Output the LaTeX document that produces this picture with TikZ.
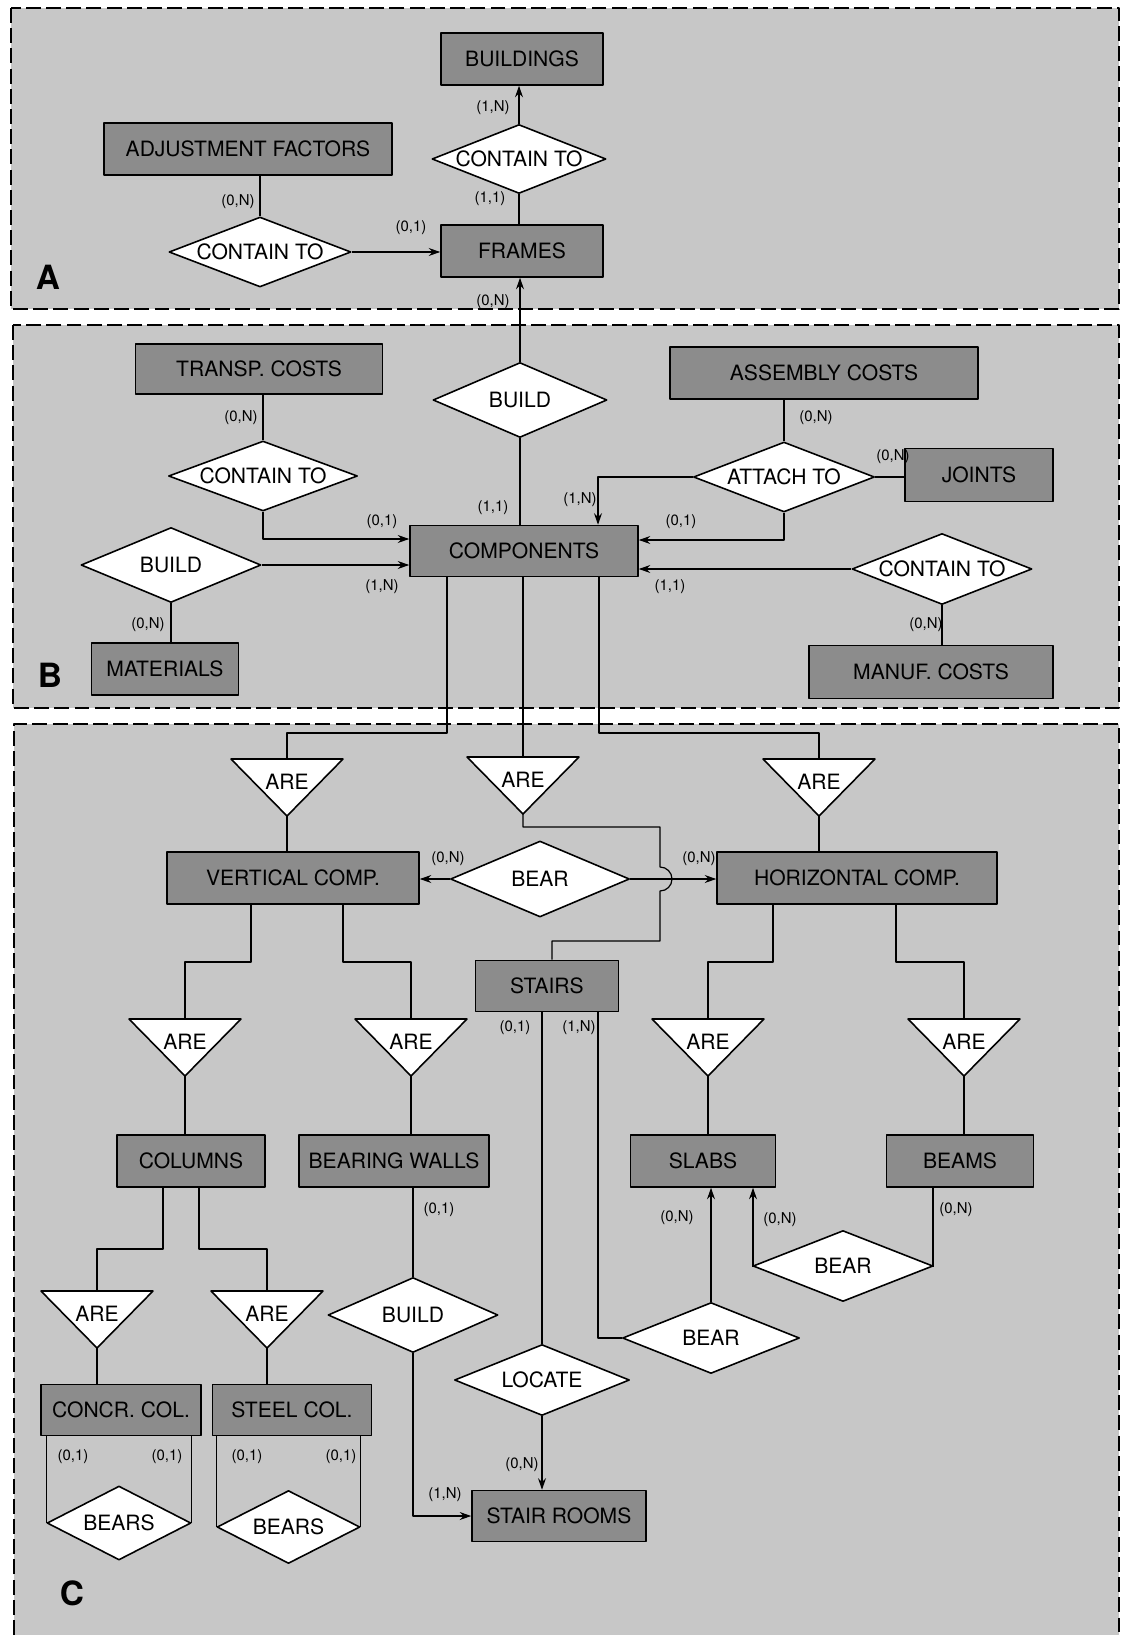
\documentclass[tikz,border=0pt]{standalone}
\usepackage{fontspec}
\setmainfont{TeX Gyre Heros}
\usetikzlibrary{shapes.geometric}
\usetikzlibrary{arrows.meta}
\usetikzlibrary{calc}
\tikzset{ent/.style={draw,line width=0.9pt,fill=black!45,minimum height=1.04cm,inner sep=1pt,font=\fontsize{12}{12}\selectfont}}
\tikzset{rel/.style={diamond,draw,line width=0.9pt,fill=white,aspect=2.5,inner sep=0pt,font=\fontsize{12}{12}\selectfont}}
\tikzset{isa/.style={draw,line width=0.9pt,fill=white}}
\tikzset{l/.style={font=\fontsize{12}{12}\selectfont}}
\tikzset{card/.style={font=\fontsize{8.5}{8.5}\selectfont,inner sep=0pt}}
\tikzset{frame/.style={line width=1.1pt,dash pattern=on 8.5pt off 3pt,fill=black!22}}
\tikzset{tag/.style={font=\fontsize{19}{19}\bfseries\selectfont}}
\begin{document}
\begin{tikzpicture}[x=0.02cm,y=-0.02cm,line join=round,line width=0.7pt,>={Stealth[length=6.5pt,width=4.5pt]}]
            \fill[white] (0,0) rectangle (1124,1635);
            \useasboundingbox (0,0) rectangle (1124,1635);
            % the three dashed frames
            \draw[frame] (11,8) rectangle (1119,309);
            \draw[frame] (13,325) rectangle (1119,708);
            \fill[black!22] (14,724) rectangle (1119,1635);
            \draw[frame,fill=none] (14,1635) -- (14,724) -- (1119,724) -- (1119,1635);
            \node[tag] (tA) at (48,277) {A};
            \node[tag] (tB) at (50,675) {B};
            \node[tag] (tC) at (72,1593) {C};
            % entities
            \node[ent,minimum width=3.24cm] (bldg) at (522,59) {BUILDINGS};
            \node[ent,minimum width=5.76cm] (adj) at (248,149) {ADJUSTMENT FACTORS};
            \node[ent,minimum width=3.24cm] (frm) at (522,251) {FRAMES};
            \node[ent,minimum width=4.94cm,minimum height=1cm] (trc) at (259,369) {TRANSP. COSTS};
            \node[ent,minimum width=6.16cm] (asc) at (824,373) {ASSEMBLY COSTS};
            \node[ent,minimum width=2.96cm,minimum height=1.06cm] (jnt) at (979,475) {JOINTS};
            \node[ent,minimum width=4.56cm,minimum height=1.02cm] (cmp) at (524,551) {COMPONENTS};
            \node[ent,minimum width=2.94cm] (mat) at (165,669) {MATERIALS};
            \node[ent,minimum width=4.88cm,minimum height=1.06cm] (mfc) at (931,672) {MANUF. COSTS};
            \node[ent,minimum width=5.04cm] (vrt) at (293,878) {VERTICAL COMP.};
            \node[ent,minimum width=5.6cm] (hor) at (857,878) {HORIZONTAL COMP.};
            \node[ent,minimum width=2.86cm,minimum height=1.02cm] (str) at (547,986) {STAIRS};
            \node[ent,minimum width=2.96cm] (col) at (191,1161) {COLUMNS};
            \node[ent,minimum width=3.8cm] (bwl) at (394,1161) {BEARING WALLS};
            \node[ent,minimum width=2.9cm] (slb) at (703,1161) {SLABS};
            \node[ent,minimum width=2.94cm] (bms) at (960,1161) {BEAMS};
            \node[ent,minimum width=3.2cm,minimum height=1.02cm] (ccc) at (121,1410) {CONCR. COL.};
            \node[ent,minimum width=3.18cm,minimum height=1.02cm] (stc) at (292,1410) {STEEL COL.};
            \node[ent,minimum width=3.48cm,minimum height=1.02cm] (srm) at (559,1516) {STAIR ROOMS};
            % relationships
            \node[rel,minimum width=3.48cm,minimum height=1.38cm] (ct1) at (519,159) {CONTAIN TO};
            \node[rel,minimum width=3.64cm,minimum height=1.4cm] (ct2) at (260,252) {CONTAIN TO};
            \node[rel,minimum width=3.48cm,minimum height=1.5cm] (bd1) at (520,400) {BUILD};
            \node[rel,minimum width=3.78cm,minimum height=1.4cm] (ct3) at (263,476) {CONTAIN TO};
            \node[rel,minimum width=3.62cm,minimum height=1.4cm] (att) at (784,477) {ATTACH TO};
            \node[rel,minimum width=3.6cm,minimum height=1.5cm] (bd2) at (171,565) {BUILD};
            \node[rel,minimum width=3.6cm,minimum height=1.42cm] (ct4) at (942,569) {CONTAIN TO};
            \node[rel,minimum width=3.58cm,minimum height=1.52cm] (br1) at (540,879) {BEAR};
            \node[rel,minimum width=3.4cm,minimum height=1.5cm] (bd3) at (413,1315) {BUILD};
            \node[rel,minimum width=3.5cm,minimum height=1.42cm] (loc) at (542,1380) {LOCATE};
            \node[rel,minimum width=3.54cm,minimum height=1.42cm] (br2) at (711,1338) {BEAR};
            \node[rel,minimum width=3.6cm,minimum height=1.42cm] (br3) at (843,1266) {BEAR};
            \node[rel,minimum width=2.88cm,minimum height=1.48cm] (bs1) at (119,1523) {BEARS};
            \node[rel,minimum width=2.86cm,minimum height=1.46cm] (bs2) at (288.5,1527) {BEARS};
            % generalisations
            \foreach \n/\x/\y in {a1/287/759,a2/523/757,a3/819/759,a4/185/1019,a5/411/1019,a6/708/1019,a7/964/1019,a8/97/1291,a9/267/1291}{
              \filldraw[isa] (\x-56,\y) -- (\x+56,\y) -- (\x,\y+57) -- cycle;
              \coordinate (\n t) at (\x,\y);
              \coordinate (\n b) at (\x,\y+57);
              \node[l] (\n) at (\x,\y+23) {ARE};
            }
            % block A
            \draw[->] (ct1.north) -- (ct1.north |- bldg.south);
            \draw (ct1.south) -- (ct1.south |- frm.north);
            \draw (ct2.north) -- (ct2.north |- adj.south);
            \draw[->] (ct2.east) -- (ct2.east -| frm.west);
            \draw[->] (bd1.north) -- (bd1.north |- frm.south);
            \node[card] (k1) at (493,108) {(1,N)};
            \node[card] (k2) at (490,199) {(1,1)};
            \node[card] (k3) at (238,202) {(0,N)};
            \node[card] (k4) at (411,228) {(0,1)};
            \node[card] (k5) at (493,302) {(0,N)};
            % block B
            \draw (bd1.south) -- (bd1.south |- cmp.north);
            \draw (ct3.north) -- (ct3.north |- trc.south);
            \draw[->] (ct3.south) |- ($(cmp.west)+(0,-12)$);
            \draw[->] (bd2.east) -- (bd2.east -| cmp.west);
            \draw (bd2.south) -- (bd2.south |- mat.north);
            \draw (att.north) -- (att.north |- asc.south);
            \draw[->] (att.west) -| ($(cmp.north)+(74,0)$);
            \draw[->] (att.south) |- ($(cmp.east)+(0,-11)$);
            \draw (att.east) -- (att.east -| jnt.west);
            \draw[->] (ct4.west) -- (ct4.west -| cmp.east);
            \draw (ct4.south) -- (ct4.south |- mfc.north);
            \node[card] (k6) at (241,418) {(0,N)};
            \node[card] (k7) at (493,508) {(1,1)};
            \node[card] (k8) at (382,522) {(0,1)};
            \node[card] (k9) at (382,587) {(1,N)};
            \node[card] (k10) at (148,625) {(0,N)};
            \node[card] (k11) at (816,418) {(0,N)};
            \node[card] (k12) at (580,500) {(1,N)};
            \node[card] (k13) at (681,522) {(0,1)};
            \node[card] (k14) at (893,457) {(0,N)};
            \node[card] (k15) at (670,587) {(1,1)};
            \node[card] (k16) at (926,625) {(0,N)};
            % block C
            \coordinate (j1) at (447,733);
            \coordinate (j2) at (599,733);
            \coordinate (j3) at (660,827);
            \coordinate (j4) at (552,941);
            \draw (cmp.south -| j1) -- (j1) -| (a1t);
            \draw (a2t |- cmp.south) -- (a2t);
            \draw (cmp.south -| j2) -- (j2) -| (a3t);
            \draw (a1b) -- (a1b |- vrt.north);
            \draw (a3b) -- (a3b |- hor.north);
            \draw (a2b) |- (j3) -- ($(j3 |- br1.east)+(0,-12)$) arc[start angle=-90,end angle=90,radius=12] |- (j4) -- (j4 |- str.north);
            \draw[->] (br1.west) -- (br1.west -| vrt.east);
            \draw[->] (br1.east) -- (br1.east -| hor.west);
            \coordinate (j5) at (251,962);
            \coordinate (j6) at (343,962);
            \coordinate (j7) at (773,962);
            \coordinate (j8) at (896,962);
            \draw (vrt.south -| j5) -- (j5) -| (a4t);
            \draw (vrt.south -| j6) -- (j6) -| (a5t);
            \draw (hor.south -| j7) -- (j7) -| (a6t);
            \draw (hor.south -| j8) -- (j8) -| (a7t);
            \draw (a4b) -- (a4b |- col.north);
            \draw (a5b) -- (a5b |- bwl.north);
            \draw (a6b) -- (a6b |- slb.north);
            \draw (a7b) -- (a7b |- bms.north);
            \coordinate (j9) at (163,1249);
            \coordinate (j10) at (199,1249);
            \draw (col.south -| j9) -- (j9) -| (a8t);
            \draw (col.south -| j10) -- (j10) -| (a9t);
            \draw (a8b) -- (a8b |- ccc.north);
            \draw (a9b) -- (a9b |- stc.north);
            \draw (bs1.west |- ccc.south) -- (bs1.west);
            \draw (bs1.east |- ccc.south) -- (bs1.east);
            \draw (bs2.west |- stc.south) -- (bs2.west);
            \draw (bs2.east |- stc.south) -- (bs2.east);
            \draw (bd3.north) -- (bd3.north |- bwl.south);
            \draw[->] (bd3.south) |- (srm.west);
            \draw (loc.north) -- (loc.north |- str.south);
            \draw[->] (loc.south) -- (loc.south |- srm.north);
            \draw ($(str.south)+(51,0)$) |- (br2.west);
            \draw[->] (br2.north) -- (br2.north |- slb.south);
            \draw[->] (br3.west) -| ($(slb.south)+(50,0)$);
            \draw (br3.east) -| ($(bms.south)+(-27,0)$);
            \node[card] (k17) at (448,859) {(0,N)};
            \node[card] (k18) at (699,859) {(0,N)};
            \node[card] (k19) at (515,1028) {(0,1)};
            \node[card] (k20) at (579,1028) {(1,N)};
            \node[card] (k21) at (439,1210) {(0,1)};
            \node[card] (k22) at (677,1218) {(0,N)};
            \node[card] (k23) at (780,1220) {(0,N)};
            \node[card] (k24) at (956,1210) {(0,N)};
            \node[card] (k25) at (445,1495) {(1,N)};
            \node[card] (k26) at (522,1465) {(0,N)};
            \node[card] (k27) at (73,1457) {(0,1)};
            \node[card] (k28) at (167,1457) {(0,1)};
            \node[card] (k29) at (247,1457) {(0,1)};
            \node[card] (k30) at (341,1457) {(0,1)};
\end{tikzpicture}
\end{document}
